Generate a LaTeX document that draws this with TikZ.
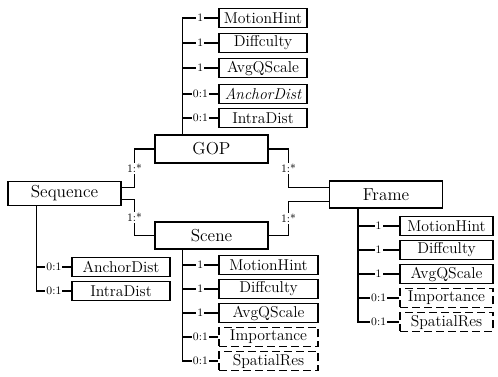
\documentclass[tikz,border=0pt]{standalone}
\usetikzlibrary{calc}

\tikzset{every picture/.style={line width=0.9pt}}
\tikzset{
  classbox/.style={draw, minimum width=84.75pt, inner sep=1pt, font=\fontsize{13}{15}\selectfont},
  attrbox/.style={draw, minimum height=14pt, inner sep=1pt, font=\fontsize{11.8}{13}\selectfont},
  optbox/.style={attrbox, dash pattern=on 6pt off 3pt},
  mult/.style={fill=white, inner sep=0.8pt, font=\fontsize{8.5}{9}\selectfont},
}

\begin{document}
\begin{tikzpicture}[x=0.75pt,y=0.75pt,yscale=-1,xscale=1]
\useasboundingbox (0,0) rectangle (498,376);

% Class boxes
\node [classbox, minimum height=21pt] (gop) at (211.5,149) {GOP};
\node [classbox, minimum height=20.25pt] (scene) at (211.5,235.5) {Scene};
\node [classbox, minimum height=18pt] (seq) at (64.5,193.5) {Sequence};
\node [classbox, minimum height=20.25pt] (frame) at (386,194.5) {Frame};

% GOP attributes
\node [attrbox, minimum width=66pt] (g1) at (263,18) {MotionHint};
\node [attrbox, minimum width=66pt] (g2) at (263,43) {Diffculty};
\node [attrbox, minimum width=66pt] (g3) at (263,68) {AvgQScale};
\node [attrbox, minimum width=66pt] (g4) at (263,94) {\itshape AnchorDist};
\node [attrbox, minimum width=66pt] (g5) at (263,118) {IntraDist};

% Sequence attributes
\node [attrbox, minimum width=73.5pt] (q1) at (121,267) {AnchorDist};
\node [attrbox, minimum width=73.5pt] (q2) at (121,291) {IntraDist};

% Scene attributes
\node [attrbox, minimum width=74.25pt] (s1) at (268.5,265) {MotionHint};
\node [attrbox, minimum width=74.25pt] (s2) at (268.5,289) {Diffculty};
\node [attrbox, minimum width=74.25pt] (s3) at (268.5,313) {AvgQScale};
\node [optbox, minimum width=74.25pt] (s4) at (268.5,337) {Importance};
\node [optbox, minimum width=74.25pt] (s5) at (268.5,361) {SpatialRes};

% Frame attributes
\node [attrbox, minimum width=69.75pt] (f1) at (446.5,226) {MotionHint};
\node [attrbox, minimum width=69.75pt] (f2) at (446.5,250) {Diffculty};
\node [attrbox, minimum width=69.75pt] (f3) at (446.5,274) {AvgQScale};
\node [optbox, minimum width=69.75pt] (f4) at (446.5,298) {Importance};
\node [optbox, minimum width=69.75pt] (f5) at (446.5,322) {SpatialRes};

% Trunks
\coordinate (gt) at ($(gop.north west)+(28,0)$);
\coordinate (qt) at ($(seq.south west)+(29,0)$);
\coordinate (st) at ($(scene.south west)+(28,0)$);
\coordinate (ft) at ($(frame.south west)+(29,0)$);

\draw (gt) |- node [mult, pos=0.75] {1} (g1.west);
\draw (gt) |- node [mult, pos=0.75] {1} (g2.west);
\draw (gt) |- node [mult, pos=0.75] {1} (g3.west);
\draw (gt) |- node [mult, pos=0.75] {0:1} (g4.west);
\draw (gt) |- node [mult, pos=0.75] {0:1} (g5.west);

\draw (qt) |- node [mult, pos=0.75] {0:1} (q1.west);
\draw (qt) |- node [mult, pos=0.75] {0:1} (q2.west);

\draw (st) |- node [mult, pos=0.75] {1} (s1.west);
\draw (st) |- node [mult, pos=0.75] {1} (s2.west);
\draw (st) |- node [mult, pos=0.75] {1} (s3.west);
\draw (st) |- node [mult, pos=0.75] {0:1} (s4.west);
\draw (st) |- node [mult, pos=0.75] {0:1} (s5.west);

\draw (ft) |- node [mult, pos=0.75] {1} (f1.west);
\draw (ft) |- node [mult, pos=0.75] {1} (f2.west);
\draw (ft) |- node [mult, pos=0.75] {1} (f3.west);
\draw (ft) |- node [mult, pos=0.75] {0:1} (f4.west);
\draw (ft) |- node [mult, pos=0.75] {0:1} (f5.west);

% Associations
\draw ($(seq.east)+(0,-6)$) -- ++(13,0) |- node [mult, pos=0.25] {1:*} (gop.west);
\draw ($(seq.east)+(0,6)$) -- ++(13,0) |- node [mult, pos=0.25] {1:*} (scene.west);
\draw (gop.east) -- ++(20,0) |- node [mult, pos=0.25] {1:*} ($(frame.west)+(0,-7)$);
\draw (scene.east) -- ++(20,0) |- node [mult, pos=0.25] {1:*} ($(frame.west)+(0,7)$);

\end{tikzpicture}
\end{document}
